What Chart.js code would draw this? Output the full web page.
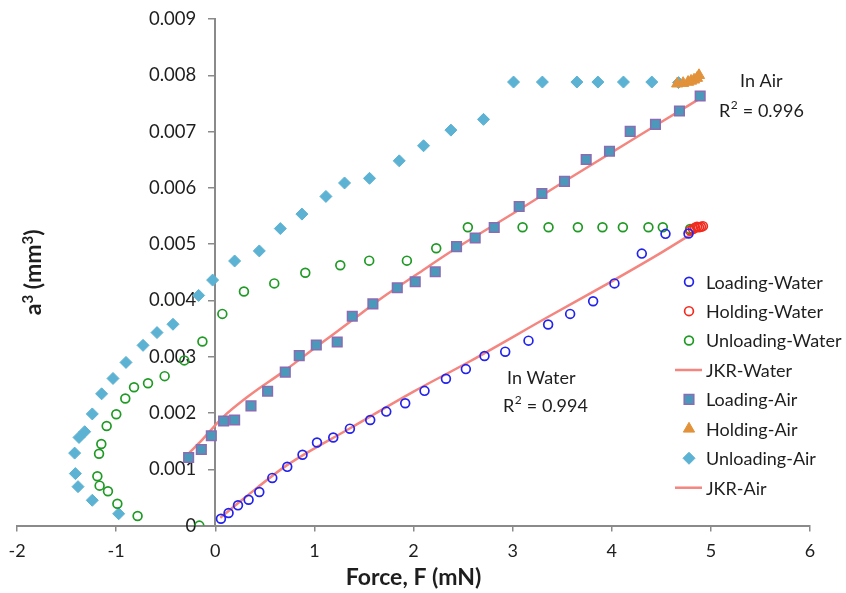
<!DOCTYPE html>
<html><head><meta charset="utf-8">
<script src="https://cdn.jsdelivr.net/npm/chart.js@4/dist/chart.umd.min.js"></script>
<style>html,body{margin:0;padding:0;background:#fff;}#wrap{width:846px;height:593px;position:relative;}</style>
</head><body><div id="wrap"><canvas id="c" width="846" height="593"></canvas></div>
<script>
const xTickLabels = ['-2','-1','0','1','2','3','4','5','6'];
const yTickLabels = ['0','0.001','0.002','0.003','0.004','0.005','0.006','0.007','0.008','0.009'];
const xTitle = 'Force, F (mN)';
const yTitleParts = ['a', '3', ' (mm', '3', ')'];
const seriesNames = ['Loading-Water','Holding-Water','Unloading-Water','JKR-Water','Loading-Air','Holding-Air','Unloading-Air','JKR-Air'];
const noteAir = ['In Air', '0.996'];
const noteWater = ['In Water', '0.994'];

const loadingWater = [[0.057,0.000121],[0.134,0.000223],[0.229,0.00036],[0.336,0.00046],[0.444,0.000598],[0.575,0.000847],[0.726,0.001044],[0.880,0.001258],[1.026,0.001477],[1.19,0.001566],[1.358,0.001722],[1.563,0.001877],[1.725,0.002025],[1.916,0.002173],[2.111,0.002394],[2.327,0.002608],[2.528,0.00278],[2.716,0.003012],[2.925,0.00309],[3.160,0.003286],[3.358,0.003572],[3.580,0.003761],[3.812,0.003987],[4.027,0.004303],[4.303,0.004832],[4.542,0.005183],[4.774,0.005188]];
const holdingWater = [[4.79,0.00524],[4.82,0.00527],[4.84,0.00529],[4.86,0.00531],[4.88,0.0053],[4.90,0.00531],[4.92,0.00532]];
const unloadingWater = [[4.79,0.00527],[4.515,0.0053],[4.37,0.0053],[4.112,0.0053],[3.906,0.0053],[3.658,0.0053],[3.362,0.0053],[3.10,0.0053],[2.548,0.0053],[2.229,0.004928],[1.933,0.004707],[1.553,0.004707],[1.261,0.004624],[0.908,0.004493],[0.595,0.004303],[0.289,0.00416],[0.071,0.003761],[-0.13,0.00327],[-0.313,0.002935],[-0.511,0.002655],[-0.679,0.00253],[-0.82,0.002459],[-0.908,0.002257],[-0.999,0.001977],[-1.096,0.00177],[-1.15,0.001449],[-1.173,0.001276],[-1.19,0.000878],[-1.167,0.00071],[-1.083,0.00061],[-0.988,0.000389],[-0.784,0.00017],[-0.161,0.0]];
const jkrWater = [[0.05,0.00014],[0.3,0.0005],[0.72,0.00107],[1.36,0.00173],[2.0,0.00238],[2.57,0.00292],[3.36,0.00371],[4.0,0.00434],[4.5,0.00485],[4.85,0.00523]];
const loadingAir = [[-0.269,0.00121],[-0.141,0.001352],[-0.04,0.001597],[0.084,0.001859],[0.195,0.001877],[0.36,0.002127],[0.528,0.002387],[0.706,0.002726],[0.847,0.003019],[1.019,0.003208],[1.23,0.003261],[1.382,0.00372],[1.59,0.00394],[1.836,0.004225],[2.017,0.004332],[2.219,0.00451],[2.434,0.004956],[2.622,0.00511],[2.814,0.005296],[3.066,0.00567],[3.295,0.0059],[3.523,0.006116],[3.742,0.006503],[3.977,0.006651],[4.186,0.007003],[4.441,0.007128],[4.683,0.007365],[4.892,0.007633]];
const holdingAir = [[4.66,0.00785],[4.72,0.00786],[4.77,0.00788],[4.80,0.0079],[4.83,0.00792],[4.86,0.00795],[4.88,0.008]];
const unloadingAir = [[4.673,0.00787],[4.404,0.00788],[4.118,0.00788],[3.86,0.00788],[3.648,0.00788],[3.30,0.00788],[3.009,0.00788],[2.706,0.007217],[2.377,0.007026],[2.101,0.006748],[1.856,0.00648],[1.556,0.00617],[1.304,0.006087],[1.116,0.005848],[0.874,0.005534],[0.656,0.005277],[0.444,0.00488],[0.195,0.004701],[-0.027,0.004362],[-0.168,0.004089],[-0.427,0.003577],[-0.588,0.003429],[-0.729,0.003202],[-0.901,0.002899],[-1.032,0.002614],[-1.147,0.002341],[-1.241,0.001984],[-1.318,0.001668],[-1.375,0.001566],[-1.419,0.001288],[-1.412,0.000924],[-1.385,0.000692],[-1.241,0.00045],[-0.975,0.00021]];
const jkrAir = [[-0.27,0.00128],[-0.15,0.00149],[0.08,0.00193],[0.35,0.00232],[0.69,0.00274],[1.03,0.00319],[1.36,0.00362],[1.7,0.00407],[2.03,0.00446],[2.37,0.00486],[2.7,0.00522],[3.0,0.00554],[3.5,0.00609],[4.0,0.00663],[4.5,0.00717],[4.92,0.00762]];

const FONT = 'Lato, "Open Sans", sans-serif';
const TXT = '#1e1e1e';
const AXIS = '#8a8a8a';
const pts = a => a.map(p => ({x: p[0], y: p[1]}));

function markerSet(label, data, style, r, border, fill, bw) {
  return {label, data: pts(data), showLine: false, pointStyle: style, pointRadius: r, pointHoverRadius: r,
    pointBorderColor: border, pointBackgroundColor: fill, pointBorderWidth: bw, borderColor: border, backgroundColor: fill, borderWidth: bw, order: 0};
}
function lineSet(label, data, color) {
  return {label, data: pts(data), showLine: true, pointRadius: 0, pointHoverRadius: 0, borderColor: color, backgroundColor: color, borderWidth: 2.5, cubicInterpolationMode: 'monotone', order: 1, isLine: true};
}

const datasets = [
  markerSet(seriesNames[0], loadingWater, 'circle', 4.4, '#2323ee', 'rgba(255,255,255,0)', 1.7),
  markerSet(seriesNames[1], holdingWater, 'circle', 4.4, '#f22a1e', 'rgba(255,255,255,0)', 1.7),
  markerSet(seriesNames[2], unloadingWater, 'circle', 4.4, '#1f9a25', 'rgba(255,255,255,0)', 1.7),
  lineSet(seriesNames[3], jkrWater, '#f4857f'),
  markerSet(seriesNames[4], loadingAir, 'rect', 6.8, '#8a6cb2', '#4a98ba', 1.5),
  markerSet(seriesNames[5], holdingAir, 'triangle', 6.5, '#e2923a', '#e2923a', 1),
  markerSet(seriesNames[6], unloadingAir, 'rectRot', 6, '#5cb2d2', '#5cb2d2', 1),
  lineSet(seriesNames[7], jkrAir, '#f4857f')
];

function drawMarker(ctx, ds, x, y) {
  const opts = {pointStyle: ds.pointStyle, radius: ds.pointRadius, rotation: 0, borderWidth: ds.pointBorderWidth};
  ctx.save();
  ctx.strokeStyle = ds.pointBorderColor; ctx.fillStyle = ds.pointBackgroundColor; ctx.lineWidth = ds.pointBorderWidth;
  if (Chart.helpers && Chart.helpers.drawPoint) {
    Chart.helpers.drawPoint(ctx, opts, x, y);
  } else {
    ctx.beginPath(); ctx.arc(x, y, ds.pointRadius, 0, Math.PI * 2); ctx.fill(); ctx.stroke();
  }
  ctx.restore();
}

function drawR2(ctx, x, y, val) {
  ctx.font = '18px ' + FONT;
  ctx.textBaseline = 'middle'; ctx.textAlign = 'left';
  ctx.fillText('R', x, y);
  let w = ctx.measureText('R').width;
  ctx.font = '12px ' + FONT;
  ctx.fillText('2', x + w + 0.5, y - 6);
  let w2 = ctx.measureText('2').width;
  ctx.font = '18px ' + FONT;
  ctx.fillText(' = ' + val, x + w + w2 + 1, y);
}

function drawSupText(ctx, parts, cx, cy, big, small) {
  const fonts = parts.map((p, i) => (i % 2 === 0) ? 'bold ' + big + 'px ' + FONT : 'bold ' + small + 'px ' + FONT);
  let widths = parts.map((p, i) => { ctx.font = fonts[i]; return ctx.measureText(p).width; });
  const total = widths.reduce((a, b) => a + b, 0);
  let x = cx - total / 2;
  ctx.textAlign = 'left'; ctx.textBaseline = 'alphabetic';
  parts.forEach((p, i) => {
    ctx.font = fonts[i];
    ctx.fillText(p, x, cy + (i % 2 === 0 ? big * 0.36 : big * 0.36 - big * 0.38));
    x += widths[i];
  });
}

const extras = {
  id: 'extras',
  afterDraw(chart) {
    const ctx = chart.ctx;
    ctx.save();
    ctx.fillStyle = TXT;
    ctx.save();
    ctx.translate(33, (chart.chartArea.top + chart.chartArea.bottom) / 2);
    ctx.rotate(-Math.PI / 2);
    drawSupText(ctx, yTitleParts, 0, 0, 23, 15);
    ctx.restore();
    ctx.font = '18px ' + FONT; ctx.textAlign = 'left'; ctx.textBaseline = 'middle';
    ctx.fillText(noteAir[0], 740, 81);
    drawR2(ctx, 719, 111, noteAir[1]);
    ctx.font = '18px ' + FONT;
    ctx.fillText(noteWater[0], 507, 378);
    drawR2(ctx, 503, 406, noteWater[1]);
    const y0 = 281.7, dy = 29.43;
    chart.data.datasets.forEach((ds, i) => {
      const y = y0 + i * dy;
      if (ds.isLine) {
        ctx.save(); ctx.strokeStyle = ds.borderColor; ctx.lineWidth = 2.5;
        ctx.beginPath(); ctx.moveTo(675, y); ctx.lineTo(702, y); ctx.stroke(); ctx.restore();
      } else {
        drawMarker(ctx, ds, 689, y);
      }
      ctx.fillStyle = TXT; ctx.font = '18px ' + FONT; ctx.textAlign = 'left'; ctx.textBaseline = 'middle';
      ctx.fillText(ds.label, 706, y + 1);
    });
    ctx.restore();
  }
};

function shiftYLabels(scale) {
  if (scale._shiftPatched) return;
  scale._shiftPatched = true;
  const orig = scale._computeLabelItems;
  scale._computeLabelItems = function (ca) {
    const items = orig.call(this, ca);
    items.forEach(it => { if (it.options && it.options.translation) it.options.translation[0] -= 19; });
    return items;
  };
}

new Chart(document.getElementById('c'), {
  type: 'scatter',
  data: {datasets},
  options: {
    responsive: false, animation: false, events: [],
    layout: {padding: {left: 17, right: 36, top: 19, bottom: 0}},
    plugins: {legend: {display: false}, tooltip: {enabled: false}},
    scales: {
      x: {
        type: 'linear', position: 'bottom', min: -2, max: 6,
        ticks: {stepSize: 1, color: TXT, font: {family: FONT, size: 18}, padding: 8.5, maxRotation: 0,
          callback: (v, i) => xTickLabels[i]},
        grid: {drawOnChartArea: false, drawTicks: true, tickLength: 6, color: AXIS, lineWidth: 1.5},
        border: {color: AXIS, width: 2},
        title: {display: true, text: xTitle, color: TXT, font: {family: FONT, size: 23, weight: 'bold'}, padding: {top: -6, bottom: 1.2}}
      },
      y: {
        type: 'linear', position: {x: 0}, min: 0, max: 0.009,
        ticks: {stepSize: 0.001, color: TXT, font: {family: FONT, size: 18.5}, padding: 0,
          callback: (v, i) => yTickLabels[i]},
        grid: {drawOnChartArea: false, drawTicks: true, tickLength: 6, color: AXIS, lineWidth: 1.5},
        border: {color: AXIS, width: 2},
        afterUpdate: shiftYLabels
      }
    }
  },
  plugins: [extras]
});
</script>
</body></html>
